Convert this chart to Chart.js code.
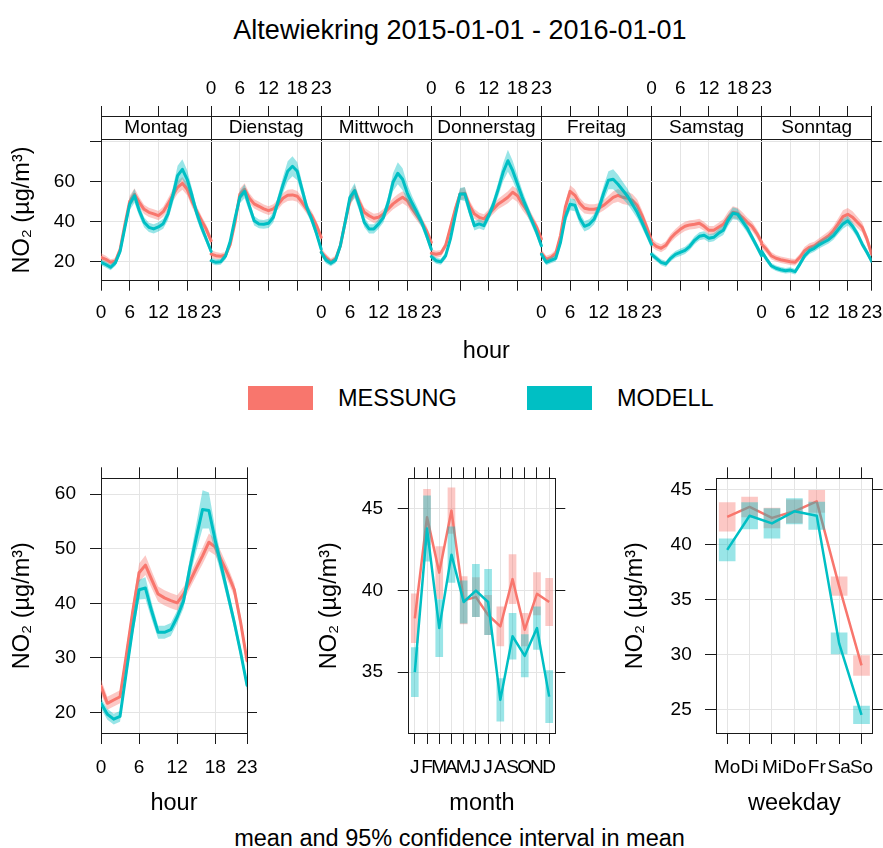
<!DOCTYPE html>
<html lang="de">
<head>
<meta charset="utf-8">
<title>Altewiekring NO2</title>
<script src="https://cdn.jsdelivr.net/npm/chart.js@4.4.1/dist/chart.umd.min.js"></script>
<style>
  html, body { margin: 0; padding: 0; background: #fff; }
  body { width: 883px; height: 848px; position: relative; overflow: hidden;
         font-family: 'Liberation Sans', Arial, sans-serif; color: #000; }
  canvas { position: absolute; }
  #title { position: absolute; left: 0; width: 920px; top: 14px; text-align: center;
           font-size: 27px; line-height: 32px; }
  .key { position: absolute; top: 386px; width: 65px; height: 24px; }
  .keyText { position: absolute; top: 384px; font-size: 23.5px; line-height: 28px; }
  #caption { position: absolute; left: 0; width: 919px; top: 824px; text-align: center;
             font-size: 23.5px; line-height: 28px; }
</style>
</head>
<body>
<div id="title">Altewiekring 2015-01-01 - 2016-01-01</div>
<canvas id="weekChart" width="883" height="310" style="left:0;top:60px"></canvas>

<div class="key" style="left:248px;background:#F8766D"></div>
<div class="keyText" style="left:338px">MESSUNG</div>
<div class="key" style="left:527px;background:#00BFC4"></div>
<div class="keyText" style="left:617px">MODELL</div>

<canvas id="hourChart" width="260" height="365" style="left:0;top:455px"></canvas>
<canvas id="monthChart" width="262" height="365" style="left:307px;top:455px"></canvas>
<canvas id="weekdayChart" width="270" height="365" style="left:613px;top:455px"></canvas>
<div id="caption">mean and 95% confidence interval in mean</div>

<script>
// ---- data: hourly means per weekday (µg/m³) and half width of the 95% CI ----
const hours = [0, 1, 2, 3, 4, 5, 6, 7, 8, 9, 10, 11, 12, 13, 14, 15, 16, 17, 18, 19, 20, 21, 22, 23];
const hourTicks = [0, 6, 12, 18, 23];
const dayNames = ['Montag', 'Dienstag', 'Mittwoch', 'Donnerstag', 'Freitag', 'Samstag', 'Sonntag'];

const messungMontag = [22, 21, 19.5, 20, 26, 38.5, 50, 53.5, 49.5, 46, 44.5, 43.7, 42.8, 44.8, 48.7, 53, 57, 59, 56, 50, 45, 40.3, 36, 30.3];
const modellMontag = [19.5, 18.4, 17, 19.2, 25, 37, 48.7, 52.8, 45.3, 39.5, 37, 36.2, 37.2, 38.8, 43.7, 52.8, 62.8, 66, 61, 53, 44, 37, 31, 25];
const messungDienstag = [23.6, 22.8, 22.5, 23, 28.5, 39.5, 53.5, 56, 51.5, 48.7, 47.5, 46.2, 45.3, 46.2, 48.5, 51.5, 53, 53.2, 52.5, 49.5, 46, 42.8, 38, 32];
const modellDienstag = [20.3, 19.5, 19.8, 22.5, 30, 41.5, 52, 55, 47.5, 40.3, 38.7, 38.5, 39, 42, 50, 58, 65, 67.5, 65, 56, 47, 41, 34, 26];
const messungMittwoch = [24.5, 22, 19.8, 21.2, 27.8, 39.5, 50.3, 55.3, 49.5, 44.5, 42.8, 41.5, 42, 43.7, 46.2, 48.7, 50.5, 52, 50.3, 46.2, 42.8, 39.5, 35.3, 29.5];
const modellMittwoch = [24.5, 20.5, 19, 20.5, 27.8, 39.5, 52, 55.3, 47.8, 39.5, 36.2, 36.2, 38.7, 42, 49.5, 59.5, 64, 61, 54, 49, 44.5, 39.5, 33, 26];
const messungDonnerstag = [24, 23.5, 24, 28, 37, 46, 53.5, 54, 47.8, 43.7, 42, 41.2, 43.7, 46.2, 48.7, 50.3, 52, 54.5, 52.8, 48.7, 45.3, 41.2, 37, 31.2];
const modellDonnerstag = [22.3, 20.3, 19.8, 22.8, 31.2, 42.8, 53.7, 53.7, 45.3, 37.8, 38.7, 37.8, 42.8, 48.7, 56.2, 64.5, 70.3, 65.3, 58.7, 52, 46.2, 40.3, 34.5, 27.8];
const messungFreitag = [24, 21, 22, 24, 33, 47, 55, 53, 49, 46.5, 46, 46, 46.5, 48, 50, 52, 53, 52, 51.5, 50.5, 48, 43, 37, 30.5];
const modellFreitag = [23.5, 19.5, 20.5, 21.5, 29.5, 42, 48.5, 48, 41.5, 37.5, 38.5, 41, 46.5, 54, 60.5, 61, 58.5, 55.5, 52.5, 48.5, 44.5, 39.5, 34, 28.5];
const messungSamstag = [29.5, 27.5, 26.5, 28, 31.5, 34, 36, 37.5, 38.2, 38.5, 39, 37.5, 35.5, 35.5, 37, 38.5, 42, 44.5, 44, 42, 39.5, 37.5, 34, 29.5];
const modellSamstag = [23.5, 21.5, 19.5, 18.7, 21.5, 23.5, 24.5, 25.5, 27.5, 30.5, 32.5, 33, 31.5, 32, 34, 35.5, 40.5, 44, 43.5, 40, 36.5, 32, 27.5, 22.8];
const messungSonntag = [28.5, 26, 22.8, 21.5, 20.8, 20.3, 19.8, 19.5, 22, 25.3, 27, 27.8, 29.5, 31.2, 32.8, 35.3, 38.7, 42.3, 43.5, 42, 39.5, 37, 31.2, 23.5];
const modellSonntag = [25, 21.2, 17.8, 16.5, 15.8, 15.3, 15.6, 14.8, 18.6, 22.8, 25.3, 26.5, 28.2, 29.5, 30.8, 32.8, 35.8, 38.7, 40.3, 37.5, 33.7, 28.7, 24.5, 20];

const messungMontagCi = [2, 1.8, 1.5, 1.5, 1.8, 2.2, 2.8, 3, 2.5, 2.3, 2.3, 2.3, 2.3, 2.5, 2.8, 3, 3.2, 3.2, 3, 2.8, 2.5, 2.3, 2.3, 2.3];
const modellMontagCi = [1.5, 1.5, 1.5, 1.5, 1.8, 2.3, 3, 3.5, 2.8, 2.5, 2.3, 2.3, 2.3, 2.5, 3, 4, 5, 5, 4.5, 3.5, 3, 2.5, 2, 1.8];
const messungDienstagCi = [2, 1.8, 1.6, 1.6, 1.8, 2.2, 2.8, 3, 2.5, 2.3, 2.3, 2.2, 2.2, 2.3, 2.5, 2.7, 2.8, 2.8, 2.7, 2.5, 2.4, 2.3, 2.3, 2.3];
const modellDienstagCi = [1.5, 1.5, 1.5, 1.6, 1.8, 2.3, 3, 3.5, 2.8, 2.4, 2.2, 2.2, 2.3, 2.6, 3, 4, 5, 5, 4.5, 3.5, 2.8, 2.4, 2, 1.8];
const messungMittwochCi = [2.2, 1.8, 1.6, 1.6, 1.8, 2.2, 2.8, 3, 2.6, 2.4, 2.3, 2.3, 2.3, 2.4, 2.6, 2.8, 3, 3, 2.9, 2.7, 2.5, 2.4, 2.3, 2.3];
const modellMittwochCi = [1.8, 1.6, 1.5, 1.5, 1.8, 2.3, 3, 3.8, 3, 2.5, 2.3, 2.3, 2.4, 2.6, 3.2, 4.5, 5.5, 5.5, 4.5, 3.5, 3, 2.6, 2.2, 2];
const messungDonnerstagCi = [2, 1.8, 1.7, 1.8, 2, 2.3, 2.8, 3, 2.6, 2.4, 2.3, 2.3, 2.3, 2.4, 2.6, 2.8, 3, 3.2, 3.2, 3, 2.8, 2.5, 2.3, 2.3];
const modellDonnerstagCi = [1.6, 1.5, 1.5, 1.6, 1.8, 2.3, 3, 3.5, 2.8, 2.4, 2.3, 2.3, 2.4, 2.8, 3.5, 4.5, 5.5, 5, 4.2, 3.5, 3, 2.6, 2.2, 2];
const messungFreitagCi = [2, 1.8, 1.7, 1.8, 2.2, 2.6, 3, 3, 2.8, 2.6, 2.5, 2.5, 2.5, 2.6, 2.8, 3, 3.2, 3.3, 3.3, 3.2, 3, 2.8, 2.6, 2.5];
const modellFreitagCi = [1.6, 1.5, 1.5, 1.6, 2, 2.6, 3, 3, 2.8, 2.6, 2.5, 2.6, 3, 3.8, 4.5, 5, 4.8, 4.3, 3.8, 3.3, 3, 2.7, 2.4, 2.2];
const messungSamstagCi = [2.2, 2, 2, 2, 2.1, 2.2, 2.3, 2.3, 2.3, 2.3, 2.3, 2.2, 2.2, 2.2, 2.3, 2.5, 2.8, 3, 2.8, 2.5, 2.4, 2.3, 2.2, 2.2];
const modellSamstagCi = [1.6, 1.5, 1.5, 1.5, 1.6, 1.7, 1.8, 1.8, 1.9, 2, 2, 2, 2, 2, 2.2, 2.4, 2.8, 3, 2.8, 2.4, 2.2, 2, 1.8, 1.6];
const messungSonntagCi = [2.2, 2, 1.8, 1.6, 1.6, 1.6, 1.6, 1.6, 1.8, 2, 2, 2, 2, 2.1, 2.2, 2.4, 2.8, 3.2, 3.2, 3, 2.8, 2.5, 2.3, 2.2];
const modellSonntagCi = [1.6, 1.5, 1.4, 1.4, 1.4, 1.4, 1.4, 1.4, 1.5, 1.6, 1.7, 1.7, 1.8, 1.8, 1.9, 2, 2.2, 2.4, 2.4, 2.2, 2, 1.8, 1.6, 1.5];

// ---- data: overall diurnal, monthly and weekday means ----
const messungHour = [24.8, 21.7, 22.3, 22.9, 30.6, 38.5, 45.6, 47, 44.3, 41.7, 41, 40.5, 40.1, 41.7, 44, 46.4, 48.7, 51.2, 50.3, 47.8, 45.3, 42.5, 36.5, 29.5];
const modellHour = [21.7, 19.7, 18.8, 19.3, 27.5, 35.5, 42.5, 42.8, 38.5, 34.7, 34.7, 35.2, 37.5, 40.4, 46.5, 52, 57.2, 57, 51.5, 46.5, 41.5, 36.5, 31, 25];
const messungHourCi = [1.3, 1.2, 1.2, 1.2, 1.3, 1.5, 1.7, 1.8, 1.6, 1.4, 1.4, 1.4, 1.4, 1.3, 1.3, 1.4, 1.5, 1.6, 1.5, 1.4, 1.3, 1.2, 1.2, 1.2];
const modellHourCi = [1, 1, 1, 1, 1.2, 1.5, 1.8, 2, 1.5, 1.2, 1.2, 1.2, 1.2, 1.3, 1.7, 2.5, 3.5, 3.3, 2.2, 1.6, 1.3, 1.2, 1, 1];

const monthLabels = ['J', 'F', 'M', 'A', 'M', 'J', 'J', 'A', 'S', 'O', 'N', 'D'];
const messungMonth = [38.3, 44.5, 41.1, 44.9, 39.4, 39.6, 38.5, 37.8, 40.7, 37.6, 39.8, 39.3];
const messungMonthCi = [1.5, 1.7, 1.6, 1.4, 1.45, 1.2, 1.2, 1.2, 1.5, 1.0, 1.3, 1.45];
const modellMonth = [35.0, 43.8, 37.7, 42.2, 39.3, 40.0, 39.3, 33.3, 37.2, 36.0, 37.7, 33.5];
const modellMonthCi = [1.5, 2.0, 1.75, 1.7, 1.3, 1.6, 2.0, 1.3, 1.4, 1.3, 1.3, 1.6];

const weekdayLabels = ['Mo', 'Di', 'Mi', 'Do', 'Fr', 'Sa', 'So'];
const messungWeekday = [42.5, 43.4, 42.4, 43.0, 43.9, 36.2, 29.0];
const messungWeekdayCi = [1.3, 0.9, 0.9, 1.05, 1.0, 0.85, 0.9];
const modellWeekday = [39.5, 42.6, 41.9, 43.0, 42.6, 31.0, 24.5];
const modellWeekdayCi = [1.0, 1.2, 1.35, 1.15, 1.25, 0.95, 0.8];

const weekData = [
  { messung: messungMontag, messungCi: messungMontagCi, modell: modellMontag, modellCi: modellMontagCi },
  { messung: messungDienstag, messungCi: messungDienstagCi, modell: modellDienstag, modellCi: modellDienstagCi },
  { messung: messungMittwoch, messungCi: messungMittwochCi, modell: modellMittwoch, modellCi: modellMittwochCi },
  { messung: messungDonnerstag, messungCi: messungDonnerstagCi, modell: modellDonnerstag, modellCi: modellDonnerstagCi },
  { messung: messungFreitag, messungCi: messungFreitagCi, modell: modellFreitag, modellCi: modellFreitagCi },
  { messung: messungSamstag, messungCi: messungSamstagCi, modell: modellSamstag, modellCi: modellSamstagCi },
  { messung: messungSonntag, messungCi: messungSonntagCi, modell: modellSonntag, modellCi: modellSonntagCi }
];

// ---- styling ----
const INK = '#1a1a1a';
const GRID = '#e4e4e4';
const RED = '#F8766D';
const CYAN = '#00BFC4';
const RED_BAND = 'rgba(248,118,109,0.4)';
const CYAN_BAND = 'rgba(0,191,196,0.4)';
const TICK_FONT = { size: 19 };
const TITLE_FONT = { size: 23.5 };
const Y_TITLE = 'NO₂ (µg/m³)';

Chart.defaults.font.family = "'Liberation Sans', Arial, sans-serif";
Chart.defaults.color = '#000';
Chart.defaults.animation = false;
Chart.defaults.plugins.legend.display = false;
Chart.defaults.plugins.tooltip.enabled = false;

const fixedTicks = values => scale => { scale.ticks = values.map(v => ({ value: v })); };
// fixed axis sizes; label overhang padding is dropped so the plot area keeps its size
const fixWidth = w => scale => { scale.width = w; scale.paddingTop = 0; scale.paddingBottom = 0; };
const fixHeight = h => scale => { scale.height = h; scale.paddingLeft = 0; scale.paddingRight = 0; };

// line + shaded CI band (upper edge filled down to lower edge)
function bandSeries(list, xs, mean, ci, lineColor, bandColor, lineWidth) {
  const base = list.length;
  list.push(
    { type: 'line', data: xs.map((x, i) => ({ x, y: mean[i] })), borderColor: lineColor,
      borderWidth: lineWidth, pointRadius: 0, fill: false, borderJoinStyle: 'round', borderCapStyle: 'round' },
    { type: 'line', data: xs.map((x, i) => ({ x, y: mean[i] + ci[i] })), borderColor: 'rgba(0,0,0,0)',
      borderWidth: 0, pointRadius: 0, backgroundColor: bandColor, fill: base + 2 },
    { type: 'line', data: xs.map((x, i) => ({ x, y: mean[i] - ci[i] })), borderColor: 'rgba(0,0,0,0)',
      borderWidth: 0, pointRadius: 0, fill: false }
  );
}

function yAxes(min, max, ticks, leftWidth, rightWidth, labelPad, labelCb) {
  return {
    y: {
      type: 'linear', position: 'left', min, max,
      afterBuildTicks: fixedTicks(ticks), afterFit: fixWidth(leftWidth),
      grid: { color: GRID, tickColor: INK, tickLength: 11 },
      border: { color: INK },
      ticks: { padding: labelPad, font: TICK_FONT, color: '#000', callback: labelCb || (v => v) },
      title: { display: true, text: Y_TITLE, font: TITLE_FONT, color: '#000', padding: { top: 8.9, bottom: 0 } }
    },
    yRight: {
      type: 'linear', axis: 'y', position: 'right', min, max,
      afterBuildTicks: fixedTicks(ticks), afterFit: fixWidth(rightWidth),
      grid: { drawOnChartArea: false, tickColor: INK, tickLength: 10 },
      border: { color: INK },
      ticks: { display: false }
    }
  };
}

// ---- week panel: seven days side by side, 23 hour units each ----
const DAY_SPAN = 23;
const WEEK_MAX = DAY_SPAN * dayNames.length;
const weekTickValues = [...new Set(dayNames.flatMap((_, d) => hourTicks.map(h => d * DAY_SPAN + h)))];
const stripTickValues = dayNames.flatMap((_, d) => [d * DAY_SPAN, d * DAY_SPAN + DAY_SPAN / 2]).concat([WEEK_MAX]);

// bottom axis labels Mo/Mi/Fr/So, top axis labels Di/Do/Sa
function hourLabelFor(v, parity) {
  for (let d = 0; d < dayNames.length; d++) {
    const h = v - d * DAY_SPAN;
    if (d % 2 === parity && h >= 0 && h <= 23 && hourTicks.includes(h)) return String(h);
  }
  return '';
}

const weekDatasets = [];
weekData.forEach((day, d) => {
  const xs = hours.map(h => d * DAY_SPAN + h);
  bandSeries(weekDatasets, xs, day.modell, day.modellCi, CYAN, CYAN_BAND, 3);
  bandSeries(weekDatasets, xs, day.messung, day.messungCi, RED, RED_BAND, 3);
});

new Chart(document.getElementById('weekChart'), {
  type: 'line',
  data: { datasets: weekDatasets },
  options: {
    responsive: false, devicePixelRatio: 1,
    layout: { padding: 0 },
    scales: {
      x: {
        type: 'linear', position: 'bottom', min: 0, max: WEEK_MAX,
        afterBuildTicks: fixedTicks(weekTickValues), afterFit: fixHeight(89.3),
        grid: { color: ctx => (ctx.tick && ctx.tick.value % DAY_SPAN === 0) ? INK : GRID, tickColor: INK, tickLength: 10 },
        border: { color: INK },
        ticks: { autoSkip: false, maxRotation: 0, minRotation: 0, padding: 10.5, font: TICK_FONT, color: '#000',
                 callback: v => hourLabelFor(v, 0) },
        title: { display: true, text: 'hour', font: TITLE_FONT, color: '#000', padding: { top: 0, bottom: 3.9 } }
      },
      xTop: {
        type: 'linear', axis: 'x', position: 'top', weight: 1, min: 0, max: WEEK_MAX,
        afterBuildTicks: fixedTicks(weekTickValues), afterFit: fixHeight(56),
        grid: { drawOnChartArea: false, tickColor: INK, tickLength: 10 },
        border: { color: INK },
        ticks: { autoSkip: false, maxRotation: 0, minRotation: 0, padding: 6, font: TICK_FONT, color: '#000',
                 callback: v => hourLabelFor(v, 1) }
      },
      strip: {
        type: 'linear', axis: 'x', position: 'top', weight: 0, min: 0, max: WEEK_MAX,
        afterBuildTicks: fixedTicks(stripTickValues), afterFit: fixHeight(23.3),
        grid: { drawOnChartArea: false, tickLength: 23.3,
                tickColor: ctx => (ctx.tick && ctx.tick.value % DAY_SPAN === 0) ? INK : 'rgba(0,0,0,0)' },
        border: { color: INK },
        ticks: { autoSkip: false, maxRotation: 0, minRotation: 0, padding: -23.4, font: TICK_FONT, color: '#000',
                 callback: v => v % DAY_SPAN === 0 ? '' : dayNames[Math.floor(v / DAY_SPAN)] }
      },
      ...yAxes(10.3, 81, [20, 40, 60, 80], 101, 11.3, 15, v => v === 80 ? '' : v)
    }
  }
});

// ---- overall diurnal cycle ----
const hourDatasets = [];
bandSeries(hourDatasets, hours, modellHour, modellHourCi, CYAN, CYAN_BAND, 3);
bandSeries(hourDatasets, hours, messungHour, messungHourCi, RED, RED_BAND, 3);

new Chart(document.getElementById('hourChart'), {
  type: 'line',
  data: { datasets: hourDatasets },
  options: {
    responsive: false, devicePixelRatio: 1,
    layout: { padding: 0 },
    scales: {
      x: {
        type: 'linear', position: 'bottom', min: 0, max: 23,
        afterBuildTicks: fixedTicks(hourTicks), afterFit: fixHeight(87),
        grid: { color: GRID, tickColor: INK, tickLength: 11 },
        border: { color: INK },
        ticks: { autoSkip: false, maxRotation: 0, minRotation: 0, padding: 12, font: TICK_FONT, color: '#000' },
        title: { display: true, text: 'hour', font: TITLE_FONT, color: '#000', padding: { top: 0, bottom: 1.9 } }
      },
      xTop: {
        type: 'linear', axis: 'x', position: 'top', min: 0, max: 23,
        afterBuildTicks: fixedTicks(hourTicks), afterFit: fixHeight(23.3),
        grid: { drawOnChartArea: false, tickColor: INK, tickLength: 11 },
        border: { color: INK },
        ticks: { display: false }
      },
      ...yAxes(16.26, 62.9, [20, 30, 40, 50, 60], 101, 13, 14)
    }
  }
});

// ---- monthly and weekday means: CI boxes with mean line ----
function boxChart(canvasId, labels, modell, modellCi, messung, messungCi, opts) {
  const box = (mean, ci) => mean.map((v, i) => [v - ci[i], v + ci[i]]);
  const lineSet = (data, color) => ({ type: 'line', data, borderColor: color, borderWidth: 2.5,
    pointRadius: 0, fill: false, borderJoinStyle: 'round' });
  const boxSet = (data, color) => ({ type: 'bar', data, backgroundColor: color, borderWidth: 0,
    barThickness: opts.boxWidth, grouped: false });
  const catGrid = { offset: false, color: GRID, tickColor: INK, tickLength: 11 };

  return new Chart(document.getElementById(canvasId), {
    type: 'bar',
    data: {
      labels,
      datasets: [
        lineSet(modell, CYAN), boxSet(box(modell, modellCi), CYAN_BAND),
        lineSet(messung, RED), boxSet(box(messung, messungCi), RED_BAND)
      ]
    },
    options: {
      responsive: false, devicePixelRatio: 1,
      layout: { padding: 0 },
      scales: {
        x: {
          type: 'category', position: 'bottom', offset: true, afterFit: fixHeight(87),
          grid: catGrid, border: { color: INK },
          ticks: { autoSkip: false, maxRotation: 0, minRotation: 0, padding: 12, font: TICK_FONT, color: '#000' },
          title: { display: true, text: opts.title, font: TITLE_FONT, color: '#000', padding: { top: 0, bottom: 1.9 } }
        },
        xTop: {
          type: 'category', axis: 'x', position: 'top', offset: true, afterFit: fixHeight(23.3),
          grid: { ...catGrid, drawOnChartArea: false }, border: { color: INK },
          ticks: { display: false }
        },
        ...yAxes(opts.min, opts.max, opts.ticks, opts.leftWidth, opts.rightWidth, opts.labelPad)
      }
    }
  });
}

boxChart('monthChart', monthLabels, modellMonth, modellMonthCi, messungMonth, messungMonthCi,
  { title: 'month', min: 31.27, max: 46.88, ticks: [35, 40, 45], leftWidth: 101.7, rightWidth: 13.7, labelPad: 14.7, boxWidth: 7 });

boxChart('weekdayChart', weekdayLabels, modellWeekday, modellWeekdayCi, messungWeekday, messungWeekdayCi,
  { title: 'weekday', min: 22.86, max: 46.0, ticks: [25, 30, 35, 40, 45], leftWidth: 103, rightWidth: 10.3, labelPad: 13.3, boxWidth: 16 });
</script>
</body>
</html>
